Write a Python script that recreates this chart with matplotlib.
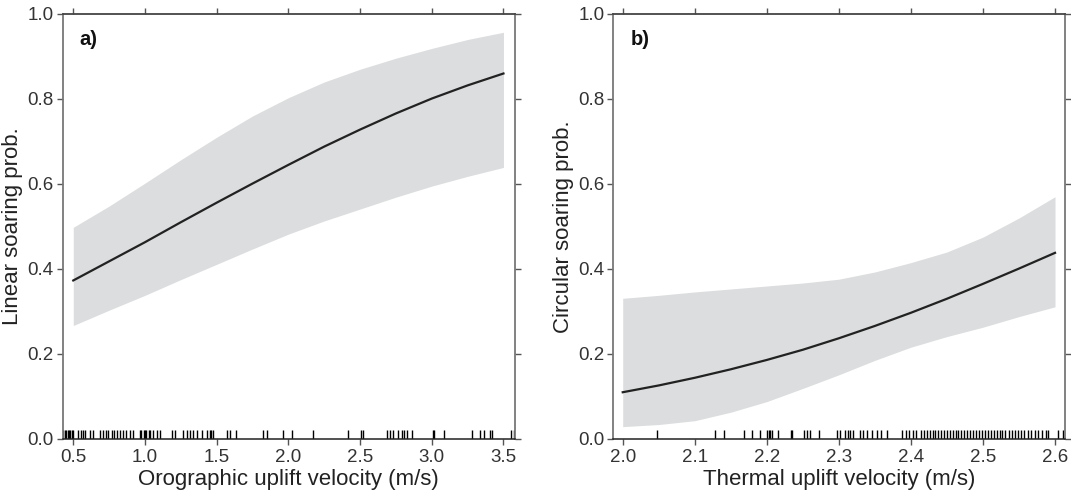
import matplotlib.pyplot as plt

plt.rcParams['font.family'] = ['Liberation Sans', 'DejaVu Sans']

# panel a: orographic uplift -> linear soaring
oro_x = [0.5, 0.75, 1.0, 1.25, 1.5, 1.75, 2.0, 2.25, 2.5, 2.75, 3.0, 3.25, 3.5]
lin_fit = [0.373, 0.418, 0.463, 0.510, 0.556, 0.601, 0.645, 0.688, 0.728, 0.766, 0.801, 0.832, 0.860]
lin_hi = [0.498, 0.548, 0.602, 0.657, 0.710, 0.760, 0.803, 0.840, 0.870, 0.896, 0.919, 0.940, 0.957]
lin_lo = [0.267, 0.303, 0.338, 0.375, 0.411, 0.447, 0.482, 0.513, 0.541, 0.569, 0.595, 0.618, 0.639]
oro_rug = [0.43, 0.44, 0.45, 0.46, 0.47, 0.48, 0.49, 0.50,
           0.535, 0.552, 0.570, 0.582, 0.617, 0.640,
           0.686, 0.709, 0.728, 0.744, 0.768, 0.784, 0.803, 0.826, 0.845, 0.868, 0.896, 0.915,
           0.965, 0.975, 0.990, 1.000, 1.010, 1.025, 1.035, 1.058, 1.082, 1.105,
           1.187, 1.210, 1.268, 1.291, 1.314, 1.337, 1.361, 1.396, 1.431, 1.454, 1.461, 1.473,
           1.570, 1.593, 1.635, 1.826, 1.850, 1.965, 2.024, 2.175, 2.419, 2.506, 2.520,
           2.687, 2.710, 2.733, 2.768, 2.792, 2.808, 2.827, 2.861,
           3.008, 3.017, 3.082, 3.280, 3.338, 3.361, 3.403, 3.420, 3.552, 3.575]

# panel b: thermal uplift -> circular soaring
th_x = [2.0, 2.05, 2.1, 2.15, 2.2, 2.25, 2.3, 2.35, 2.4, 2.45, 2.5, 2.55, 2.6]
circ_fit = [0.110, 0.126, 0.144, 0.164, 0.186, 0.210, 0.237, 0.266, 0.297, 0.330, 0.365, 0.401, 0.438]
circ_hi = [0.331, 0.338, 0.346, 0.353, 0.360, 0.367, 0.376, 0.393, 0.415, 0.440, 0.475, 0.520, 0.570]
circ_lo = [0.029, 0.034, 0.043, 0.063, 0.088, 0.119, 0.151, 0.185, 0.216, 0.241, 0.263, 0.288, 0.311]
th_rug = [2.048, 2.128, 2.140, 2.168, 2.179, 2.191, 2.200, 2.203, 2.205, 2.207, 2.216, 2.233, 2.235,
          2.251, 2.256, 2.260, 2.272, 2.298, 2.302, 2.309, 2.312, 2.315, 2.319,
          2.330, 2.334, 2.339, 2.346, 2.353, 2.358, 2.367,
          2.388, 2.393, 2.398, 2.403, 2.407, 2.414, 2.418, 2.422, 2.426, 2.430, 2.434, 2.438,
          2.442, 2.446, 2.450, 2.454, 2.458, 2.462, 2.466, 2.470, 2.474, 2.478, 2.482, 2.486,
          2.490, 2.494, 2.498, 2.503, 2.507, 2.511, 2.515, 2.519, 2.523, 2.527, 2.531, 2.536,
          2.540, 2.544, 2.548, 2.553, 2.557, 2.562, 2.567, 2.572, 2.577, 2.582, 2.587, 2.590,
          2.604, 2.611]

fig = plt.figure(figsize=(10.71, 4.98), dpi=100)
ax1 = fig.add_axes([0.0585, 0.1185, 0.4223, 0.8534])
ax2 = fig.add_axes([0.5727, 0.1185, 0.4218, 0.8534])

panels = [
    (ax1, oro_x, lin_fit, lin_lo, lin_hi, oro_rug, (0.426, 3.58),
     [0.5, 1.0, 1.5, 2.0, 2.5, 3.0, 3.5], 'Orographic uplift velocity (m/s)', 'Linear soaring prob.', 'a)'),
    (ax2, th_x, circ_fit, circ_lo, circ_hi, th_rug, (1.987, 2.614),
     [2.0, 2.1, 2.2, 2.3, 2.4, 2.5, 2.6], 'Thermal uplift velocity (m/s)', 'Circular soaring prob.', 'b)'),
]

for ax, x, fit, lo, hi, rug, xlim, xt, xlab, ylab, tag in panels:
    ax.fill_between(x, lo, hi, color='#dcddde', lw=0)
    ax.plot(x, fit, color='#222222', lw=1.6)
    ax.vlines(rug, 0, 0.02, color='black', lw=1.0)
    ax.set_xlim(*xlim)
    ax.set_ylim(0, 1)
    ax.set_xticks(xt)
    ax.set_xticklabels(['%.1f' % v for v in xt])
    ax.set_yticks([0, 0.2, 0.4, 0.6, 0.8, 1.0])
    ax.set_yticklabels(['0.0', '0.2', '0.4', '0.6', '0.8', '1.0'])
    ax.tick_params(direction='out', length=4.5, width=1, color='#555555',
                   labelsize=13.5, labelcolor='#333333', top=True, right=True)
    ax.tick_params(axis='x', pad=3)
    ax.tick_params(axis='y', pad=2)
    for s in ['left', 'right']:
        ax.spines[s].set_color('#777777')
        ax.spines[s].set_linewidth(1.3)
    ax.spines['top'].set_color('#444444')
    ax.spines['top'].set_linewidth(1.3)
    ax.spines['bottom'].set_color('#222222')
    ax.spines['bottom'].set_linewidth(1.1)
    ax.set_xlabel(xlab, fontsize=16, color='#222222', labelpad=2)
    ax.set_ylabel(ylab, fontsize=16, color='#222222', labelpad=3)
    ax.text(0.038, 0.94, tag, transform=ax.transAxes, fontsize=14.5,
            fontweight='bold', ha='left', va='center', color='#111111')

fig.savefig('out.png', dpi=100)
